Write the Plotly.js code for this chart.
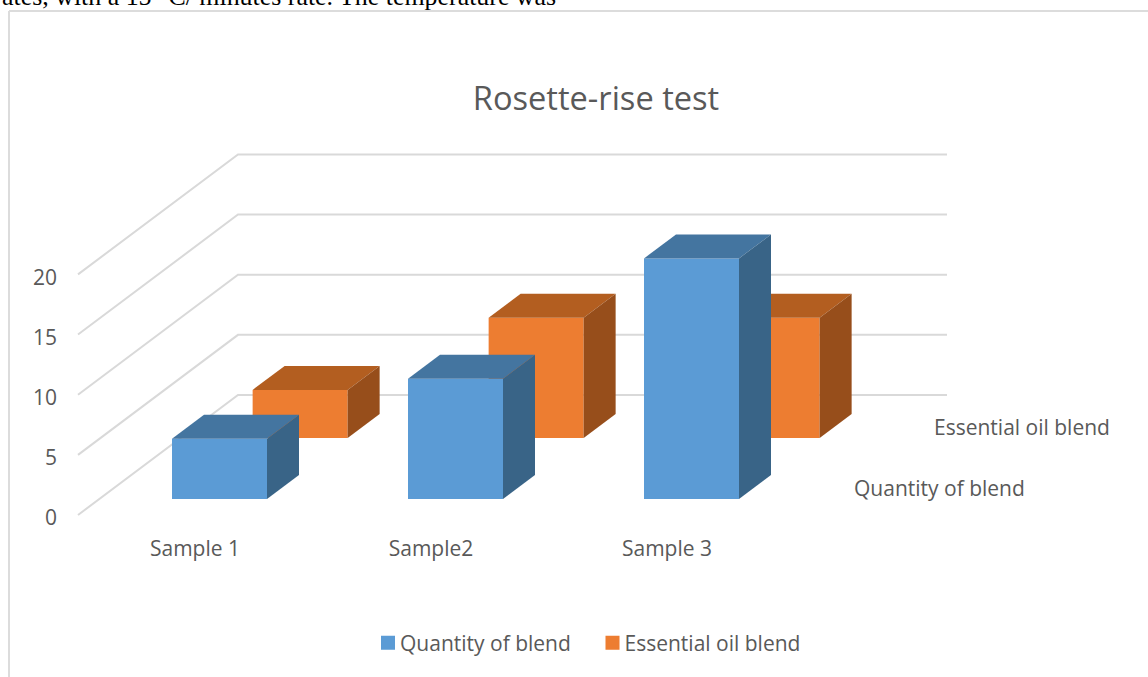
<!DOCTYPE html>
<html>
<head>
<meta charset="utf-8">
<script src="https://cdn.plot.ly/plotly-3.0.1.min.js"></script>
<style>html,body{margin:0;padding:0;background:#fff;overflow:hidden}#chart{width:1148px;height:677px}</style>
</head>
<body>
<div id="chart"></div>
<script>
// ---- data ----
const categories = ['Sample 1', 'Sample2', 'Sample 3'];
const quantityOfBlend = [5, 10, 20];
const essentialOilBlend = [4, 10, 10];
const valueTicks = [0, 5, 10, 15, 20];
const seriesNames = ['Quantity of blend', 'Essential oil blend'];

// ---- page geometry ----
const W = 1148, H = 677, L = 60, B = 530;
const pxPerSlot = 236, xZeroPx = 195;      // horizontal scale: one category slot
const pxPerUnit = 12.03, yZeroPx = 515;    // vertical scale: one value unit
const xRange = [(L - xZeroPx) / pxPerSlot, (W - xZeroPx) / pxPerSlot];
const yRange = [(yZeroPx - B) / pxPerUnit, yZeroPx / pxPerUnit];
const px = p => (p - L) / (W - L);   // page px -> paper
const py = p => (B - p) / B;

// oblique projection
const barW = 95 / pxPerSlot;
const depthX = 32 / pxPerSlot, depthY = 24 / pxPerUnit;
const wallDX = 160 / pxPerSlot, wallDY = 120 / pxPerUnit;
const wallX0 = (78 - xZeroPx) / pxPerSlot, wallX1 = (947 - xZeroPx) / pxPerSlot;
const frontSeries = {off: 0.1038, base: 16 / pxPerUnit};
const backSeries = {off: 0.4455, base: 77 / pxPerUnit};

const gridColor = '#d9d9d9', textColor = '#595959';
const fontFam = '"Open Sans", "Noto Sans", sans-serif';

function wallTraces() {
  return valueTicks.map(v => ({
    type: 'scatter', mode: 'lines', hoverinfo: 'skip', showlegend: false,
    x: [wallX0, wallX0 + wallDX, wallX1],
    y: [v, v + wallDY, v + wallDY],
    line: {color: gridColor, width: 2}, xaxis: 'x', yaxis: 'y'
  }));
}

function seriesTraces(name, values, geo, colors, xa, ya) {
  const xs = categories.map((c, i) => i + geo.off);
  const traces = [{
    type: 'bar', name, x: xs, y: values, base: values.map(() => geo.base), width: barW,
    marker: {color: colors.front, line: {width: 0}}, xaxis: xa, yaxis: ya, hoverinfo: 'skip'
  }];
  values.forEach((v, i) => {
    const l = xs[i] - barW / 2, r = xs[i] + barW / 2;
    const b = geo.base, t = geo.base + v;
    traces.push({
      type: 'scatter', mode: 'none', fill: 'toself', fillcolor: colors.top, showlegend: false, hoverinfo: 'skip',
      x: [l, r, r + depthX, l + depthX, l], y: [t, t, t + depthY, t + depthY, t], xaxis: xa, yaxis: ya
    });
    traces.push({
      type: 'scatter', mode: 'none', fill: 'toself', fillcolor: colors.side, showlegend: false, hoverinfo: 'skip',
      x: [r, r + depthX, r + depthX, r, r], y: [b, b + depthY, t + depthY, t, b], xaxis: xa, yaxis: ya
    });
  });
  return traces;
}

const data = [
  ...wallTraces(),
  ...seriesTraces(seriesNames[1], essentialOilBlend, backSeries,
    {front: '#ed7d31', top: '#b35e20', side: '#974e1b'}, 'x2', 'y2'),
  ...seriesTraces(seriesNames[0], quantityOfBlend, frontSeries,
    {front: '#5b9bd5', top: '#4475a0', side: '#396487'}, 'x3', 'y3')
];

const hidden = a => ({range: xRange, overlaying: a, visible: false, fixedrange: true});
const hiddenY = a => ({range: yRange, overlaying: a, visible: false, fixedrange: true});

const layout = {
  width: W, height: H, autosize: false,
  margin: {l: L, r: 0, t: 0, b: H - B, pad: 0},
  paper_bgcolor: '#fff', plot_bgcolor: 'rgba(0,0,0,0)',
  font: {family: fontFam, color: textColor, size: 21},
  barmode: 'overlay',
  title: {text: 'Rosette-rise test', x: px(596), xanchor: 'center', y: 1 - 99 / H, yanchor: 'middle',
          xref: 'paper', yref: 'container', font: {size: 32.6, family: fontFam, color: textColor}},
  xaxis: {range: xRange, tickmode: 'array', tickvals: categories.map((c, i) => i), ticktext: categories,
          showgrid: false, zeroline: false, showline: false, ticks: '', tickfont: {size: 21, color: textColor},
          ticklabelstandoff: 4, fixedrange: true},
  yaxis: {range: yRange, tickmode: 'array', tickvals: valueTicks, ticktext: valueTicks.map(String),
          showgrid: false, zeroline: false, showline: false, ticks: '', tickfont: {size: 21, color: textColor},
          ticklabelstandoff: 2, ticklabelshift: 3, fixedrange: true},
  xaxis2: hidden('x'), yaxis2: hiddenY('y'),
  xaxis3: hidden('x'), yaxis3: hiddenY('y'),
  showlegend: true,
  legend: {orientation: 'h', x: px(368), xanchor: 'left', y: py(643), yanchor: 'middle',
           font: {size: 21, color: textColor, family: fontFam}, bgcolor: 'rgba(0,0,0,0)',
           entrywidth: 179.5, entrywidthmode: 'pixels',
           traceorder: 'reversed', itemclick: false, itemdoubleclick: false},
  shapes: [
    {type: 'line', xref: 'paper', yref: 'paper', x0: px(9), x1: px(W), y0: py(11), y1: py(11), line: {color: '#dcdcdc', width: 2}},
    {type: 'line', xref: 'paper', yref: 'paper', x0: px(9), x1: px(9), y0: py(11), y1: py(H), line: {color: '#dcdcdc', width: 2}}
  ],
  annotations: [
    {text: 'ates, with a 15 °C/ minutes rate. The temperature was', xref: 'paper', yref: 'paper',
     x: px(0), xanchor: 'left', y: py(-3), yanchor: 'middle', showarrow: false,
     font: {family: '"Liberation Serif", serif', size: 25.9, color: '#000'}},
    {text: seriesNames[1], xref: 'paper', yref: 'paper', x: px(1022), xanchor: 'center', y: py(427), yanchor: 'middle',
     showarrow: false, font: {size: 21, color: textColor, family: fontFam}},
    {text: seriesNames[0], xref: 'paper', yref: 'paper', x: px(939.5), xanchor: 'center', y: py(488), yanchor: 'middle',
     showarrow: false, font: {size: 21, color: textColor, family: fontFam}}
  ]
};

Plotly.newPlot('chart', data, layout, {displayModeBar: false, staticPlot: true}).then(() => {
  // legend swatches sit tight against their labels in the reference
  document.querySelectorAll('.legend .legendpoints path').forEach(p => p.setAttribute('d', 'M7,7H-7V-7H7Z'));
  document.querySelectorAll('.legend .legendtext').forEach(t => t.setAttribute('x', 32));
});
</script>
</body>
</html>
